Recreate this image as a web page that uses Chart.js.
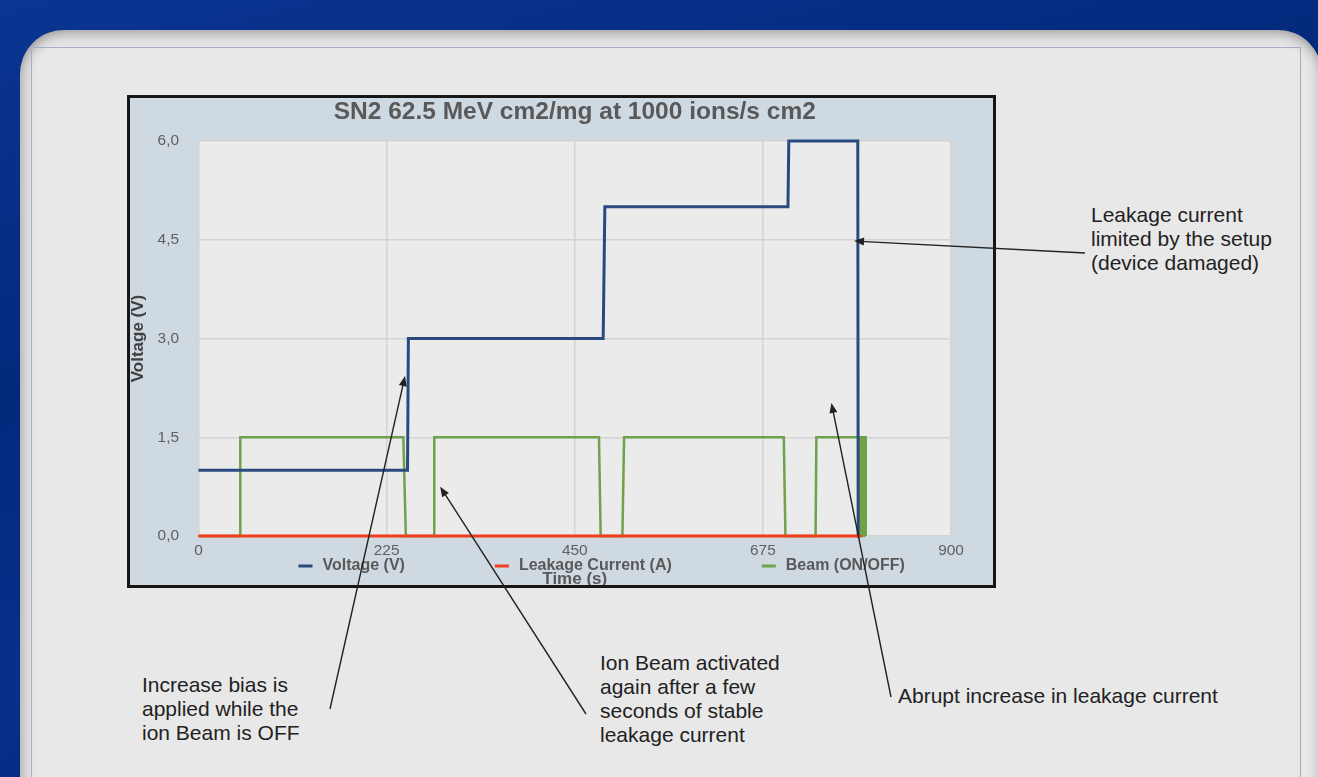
<!DOCTYPE html>
<html>
<head>
<meta charset="utf-8">
<script src="https://cdn.jsdelivr.net/npm/chart.js@4.4.1/dist/chart.umd.min.js"></script>
<style>
  html, body { margin: 0; padding: 0; }
  body {
    width: 1318px; height: 777px; overflow: hidden; position: relative;
    background: linear-gradient(165deg, #0a3592 0%, #03297c 35%, #06308a 60%, #022577 100%);
    font-family: "Liberation Sans", Arial, sans-serif;
  }
  #panel {
    position: absolute; left: 20px; top: 30px; width: 1302px; height: 800px;
    border-radius: 44px; background: #e8e8e8;
    box-shadow: inset 0 12px 14px -8px rgba(0,0,0,0.28), inset 12px 0 14px -8px rgba(0,0,0,0.22), inset -12px 0 14px -8px rgba(0,0,0,0.18);
  }
  #frame {
    position: absolute; left: 31px; top: 47px; width: 1268px; height: 760px;
    border: 1px solid #a4acc6;
  }
  #chartBox {
    position: absolute; left: 127px; top: 95px; width: 863px; height: 487px;
    border: 3px solid #161616; background: #cfd9e1;
  }
  #chartBox canvas { display: block; }
  .note {
    position: absolute; font-size: 21px; line-height: 24px; color: #222;
    white-space: nowrap;
  }
  #arrows { position: absolute; left: 0; top: 0; pointer-events: none; }
</style>
</head>
<body>
<div id="panel"></div>
<div id="frame"></div>
<div id="chartBox"><canvas id="chartSN2" width="863" height="487"></canvas></div>

<div class="note" style="left:142px; top:673px;">Increase bias is<br>applied while the<br>ion Beam is OFF</div>
<div class="note" style="left:600px; top:651px;">Ion Beam activated<br>again after a few<br>seconds of stable<br>leakage current</div>
<div class="note" style="left:898px; top:684px;">Abrupt increase in leakage current</div>
<div class="note" style="left:1091px; top:203px;">Leakage current<br>limited by the setup<br>(device damaged)</div>

<canvas id="arrows" width="1318" height="777"></canvas>

<script>
// time axis (s) and voltage axis
const timeTicks = [0, 225, 450, 675, 900];
const voltageTicks = [0, 1.5, 3, 4.5, 6];

// Voltage (V)
const voltageTime =   [0, 250, 251, 484, 486, 705, 706, 788.5, 789, 791];
const voltageValues = [1, 1,   3,   3,   5,   5,   6,   6,     0,   0];

// Leakage Current (A)
const leakageTime =   [0, 793];
const leakageValues = [0, 0];

// Beam (ON/OFF)
const beamTime =   [0, 50, 50, 245, 248, 282, 282, 479, 481, 507, 509, 700, 702, 738, 739, 790, 790, 792, 792, 794, 794, 796, 796, 798, 798];
const beamValues = [0, 0, 1.5, 1.5, 0, 0, 1.5, 1.5, 0, 0, 1.5, 1.5, 0, 0, 1.5, 1.5, 0, 0, 1.5, 1.5, 0, 0, 1.5, 1.5, 0];

// arrow tips in data units (time, voltage), tails in page pixels
const noteTips = [
  { x: 247, y: 2.43, tailX: 330, tailY: 709 },
  { x: 289, y: 0.75, tailX: 586, tailY: 714 },
  { x: 757, y: 2.02, tailX: 891, tailY: 697 },
  { x: 784, y: 4.48, tailX: 1085, tailY: 253 }
];

const font = '"Liberation Sans", Arial, sans-serif';
const toPoints = (xs, ys) => xs.map((x, i) => ({ x: x, y: ys[i] }));
const comma = (v) => v.toFixed(1).replace('.', ',');

const plotBg = {
  id: 'plotBg',
  beforeDraw(chart) {
    const { ctx, chartArea: a } = chart;
    ctx.save();
    ctx.fillStyle = '#ebebeb';
    ctx.fillRect(a.left, a.top, a.right - a.left, a.bottom - a.top);
    ctx.restore();
  }
};

// title, legend and x title placed like the Excel original
const excelBits = {
  id: 'excelBits',
  afterDraw(chart) {
    const { ctx, chartArea: a } = chart;
    const mid = (a.left + a.right) / 2;
    ctx.save();
    ctx.fillStyle = '#595959';
    ctx.textAlign = 'center';
    ctx.textBaseline = 'middle';
    ctx.font = 'bold 24.5px ' + font;
    ctx.fillText('SN2 62.5 MeV cm2/mg at 1000 ions/s cm2', mid, 14);

    ctx.font = 'bold 17px ' + font;
    ctx.fillText('Time (s)', mid, a.bottom + 43);

    ctx.font = 'bold 16px ' + font;
    ctx.textAlign = 'left';
    let x = a.left + 100;
    const y = a.bottom + 30;
    chart.data.datasets.forEach((ds) => {
      ctx.strokeStyle = ds.borderColor;
      ctx.lineWidth = 3;
      ctx.beginPath();
      ctx.moveTo(x, y);
      ctx.lineTo(x + 14, y);
      ctx.stroke();
      ctx.fillStyle = '#595959';
      ctx.fillText(ds.label, x + 24, y);
      x += 24 + ctx.measureText(ds.label).width + 90;
    });
    ctx.restore();
  },
  afterRender(chart) {
    const page = document.getElementById('arrows').getContext('2d');
    const box = chart.canvas.getBoundingClientRect();
    page.clearRect(0, 0, 1318, 777);
    page.strokeStyle = '#222';
    page.fillStyle = '#222';
    page.lineWidth = 1.4;
    noteTips.forEach((n) => {
      const tx = box.left + chart.scales.x.getPixelForValue(n.x);
      const ty = box.top + chart.scales.y.getPixelForValue(n.y);
      const ang = Math.atan2(ty - n.tailY, tx - n.tailX);
      page.beginPath();
      page.moveTo(n.tailX, n.tailY);
      page.lineTo(tx - 6 * Math.cos(ang), ty - 6 * Math.sin(ang));
      page.stroke();
      page.beginPath();
      page.moveTo(tx, ty);
      page.lineTo(tx - 10 * Math.cos(ang) + 4 * Math.sin(ang), ty - 10 * Math.sin(ang) - 4 * Math.cos(ang));
      page.lineTo(tx - 10 * Math.cos(ang) - 4 * Math.sin(ang), ty - 10 * Math.sin(ang) + 4 * Math.cos(ang));
      page.closePath();
      page.fill();
    });
  }
};

new Chart(document.getElementById('chartSN2'), {
  type: 'scatter',
  data: {
    datasets: [
      {
        label: 'Voltage (V)',
        data: toPoints(voltageTime, voltageValues),
        borderColor: '#2a4a7f',
        borderWidth: 3,
        clip: false,
        order: 2
      },
      {
        label: 'Leakage Current (A)',
        data: toPoints(leakageTime, leakageValues),
        borderColor: '#f23c1c',
        borderWidth: 3,
        clip: false,
        order: 1
      },
      {
        label: 'Beam (ON/OFF)',
        data: toPoints(beamTime, beamValues),
        borderColor: '#6fa24a',
        borderWidth: 2.5,
        clip: false,
        order: 3
      }
    ]
  },
  options: {
    responsive: false,
    animation: false,
    devicePixelRatio: 1,
    showLine: true,
    elements: {
      point: { radius: 0, hoverRadius: 0 },
      line: { tension: 0, fill: false, borderJoinStyle: 'miter' }
    },
    layout: { padding: { left: 0, top: 43, right: 42, bottom: 0 } },
    scales: {
      x: {
        type: 'linear',
        min: timeTicks[0],
        max: timeTicks[timeTicks.length - 1],
        afterBuildTicks: (scale) => { scale.ticks = timeTicks.map((v) => ({ value: v })); },
        afterFit: (scale) => { scale.height = 49; },
        ticks: { color: '#5f5f5f', padding: 6, font: { family: font, size: 15.4 } },
        grid: { color: '#d3d3d3', lineWidth: 1.5, drawTicks: false },
        border: { display: false }
      },
      y: {
        min: voltageTicks[0],
        max: voltageTicks[voltageTicks.length - 1],
        afterBuildTicks: (scale) => { scale.ticks = voltageTicks.map((v) => ({ value: v })); },
        afterFit: (scale) => { scale.width = 68.5; },
        ticks: { color: '#5f5f5f', padding: 19.5, callback: comma, font: { family: font, size: 15.4 } },
        grid: { color: '#d3d3d3', lineWidth: 1.5, drawTicks: false },
        border: { display: false },
        title: {
          display: true,
          text: 'Voltage (V)',
          color: '#404040',
          padding: 0,
          font: { family: font, size: 17, weight: 'bold', lineHeight: 1 }
        }
      }
    },
    plugins: {
      legend: { display: false },
      title: { display: false },
      tooltip: { enabled: false }
    }
  },
  plugins: [plotBg, excelBits]
});
</script>
</body>
</html>
